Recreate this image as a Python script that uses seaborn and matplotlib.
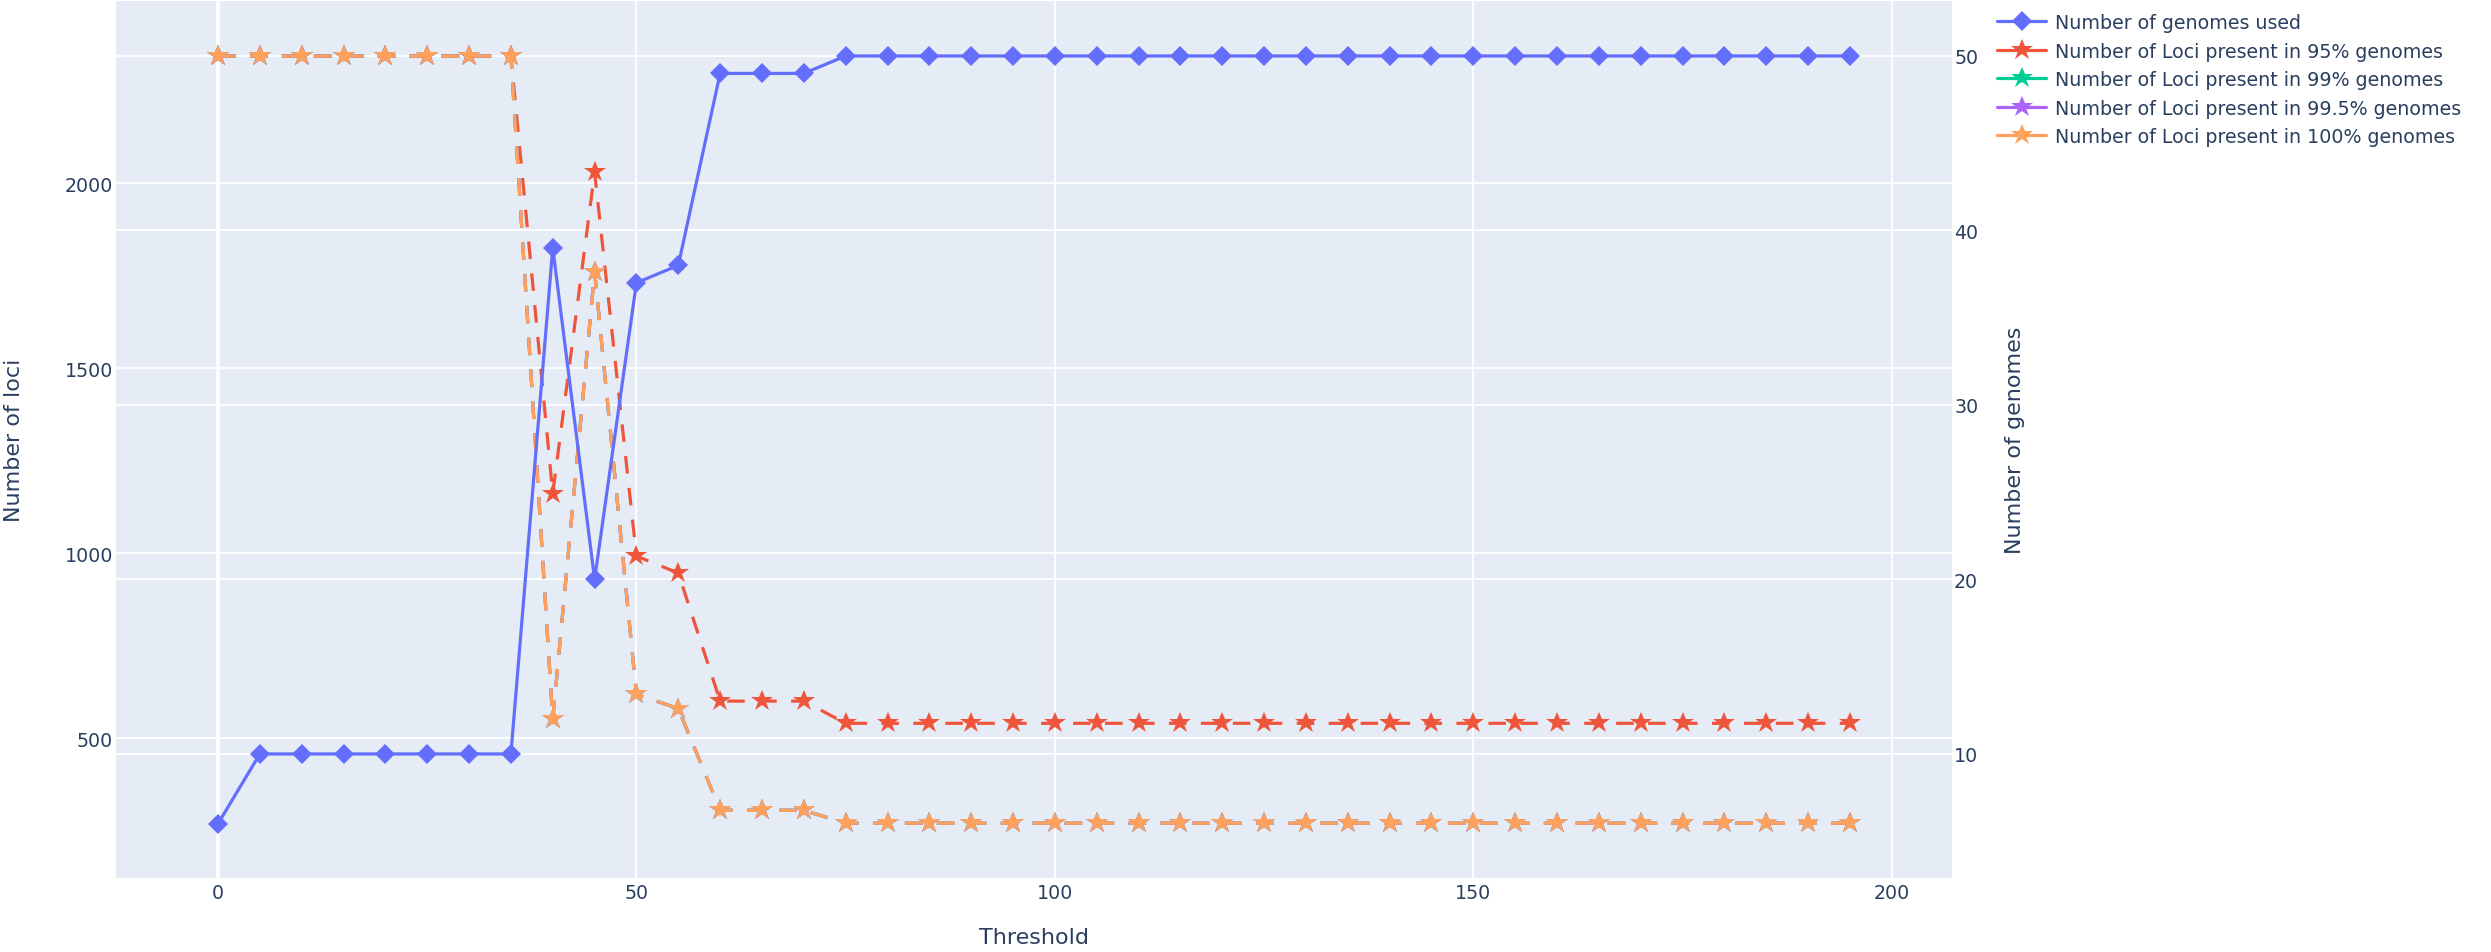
import matplotlib
matplotlib.use("Agg")
import matplotlib.pyplot as plt
from matplotlib.lines import Line2D
import seaborn as sns

# Threshold values on the x axis
thresholds = [0, 5, 10, 15, 20, 25, 30, 35, 40, 45,
              50, 55, 60, 65, 70, 75, 80, 85, 90, 95,
              100, 105, 110, 115, 120, 125, 130, 135, 140, 145,
              150, 155, 160, 165, 170, 175, 180, 185, 190, 195]

# Number of genomes retained at each threshold (right axis)
genomes_used = [6, 10, 10, 10, 10, 10, 10, 10, 39, 20,
                37, 38, 49, 49, 49, 50, 50, 50, 50, 50,
                50, 50, 50, 50, 50, 50, 50, 50, 50, 50,
                50, 50, 50, 50, 50, 50, 50, 50, 50, 50]

# Number of loci present in a given share of genomes (left axis)
loci_95 = [2343, 2343, 2343, 2343, 2343, 2343, 2343, 2343, 1161, 2029,
           992, 946, 600, 600, 600, 540, 540, 540, 540, 540,
           540, 540, 540, 540, 540, 540, 540, 540, 540, 540,
           540, 540, 540, 540, 540, 540, 540, 540, 540, 540]
loci_99 = [2343, 2343, 2343, 2343, 2343, 2343, 2343, 2343, 551, 1760,
           618, 580, 305, 305, 305, 270, 270, 270, 270, 270,
           270, 270, 270, 270, 270, 270, 270, 270, 270, 270,
           270, 270, 270, 270, 270, 270, 270, 270, 270, 270]
loci_995 = [2343, 2343, 2343, 2343, 2343, 2343, 2343, 2343, 551, 1760,
            618, 580, 305, 305, 305, 270, 270, 270, 270, 270,
            270, 270, 270, 270, 270, 270, 270, 270, 270, 270,
            270, 270, 270, 270, 270, 270, 270, 270, 270, 270]
loci_100 = [2343, 2343, 2343, 2343, 2343, 2343, 2343, 2343, 551, 1760,
            618, 580, 305, 305, 305, 270, 270, 270, 270, 270,
            270, 270, 270, 270, 270, 270, 270, 270, 270, 270,
            270, 270, 270, 270, 270, 270, 270, 270, 270, 270]

series_names = ["Number of genomes used",
                "Number of Loci present in 95% genomes",
                "Number of Loci present in 99% genomes",
                "Number of Loci present in 99.5% genomes",
                "Number of Loci present in 100% genomes"]
series_colors = ["#636EFA", "#EF553B", "#00CC96", "#AB63FA", "#FFA15A"]

x_ticks = [0, 50, 100, 150, 200]
loci_ticks = [500, 1000, 1500, 2000]
genome_ticks = [10, 20, 30, 40, 50]

BG = "#E5ECF6"
TXT = "#2a3f5f"

sns.set_style("darkgrid", {"axes.facecolor": BG, "grid.color": "white",
                           "axes.edgecolor": BG})
plt.rcParams["font.family"] = ["DejaVu Sans"]

fig = plt.figure(figsize=(24.91, 9.53), dpi=100)
fig.patch.set_facecolor("white")

W, H = 2491, 953
left, right, top, bottom = 116, 1952, 2, 879
ax = fig.add_axes([left / W, (H - bottom) / H, (right - left) / W, (bottom - top) / H])
ax2 = ax.twinx()

line_w = 2.3
dash = (0, (5.5, 4.5))
diamond_ms = 10
star_ms = 16.4

# Loci traces on the left axis
for vals, col in zip([loci_95, loci_99, loci_995, loci_100], series_colors[1:]):
    sns.lineplot(x=thresholds, y=vals, ax=ax, color=col, linewidth=line_w,
                 linestyle=dash, marker="*", markersize=star_ms,
                 markeredgewidth=0, errorbar=None, zorder=2)

# Genome count on the right axis
sns.lineplot(x=thresholds, y=genomes_used, ax=ax2, color=series_colors[0],
             linewidth=line_w, marker="D", markersize=diamond_ms,
             markeredgewidth=0, errorbar=None, zorder=3)

ax.set_xlim(-12.19, 207.2)
ax.set_ylim(122, 2492)
ax2.set_ylim(2.89, 53.15)

ax.set_xticks(x_ticks)
ax.set_yticks(loci_ticks)
ax2.set_yticks(genome_ticks)

# Grid lines, drawn below every trace
ax.set_axisbelow(True)
ax.grid(True, color="white", linewidth=1.3)
ax2.grid(False)
for v in genome_ticks:
    ax.add_line(Line2D([0, 1], [v, v], transform=ax2.get_yaxis_transform(),
                       color="white", linewidth=1.3, zorder=0.6))
ax.axvline(0, color="white", linewidth=2.6, zorder=0.7)

for a in (ax, ax2):
    for s in a.spines.values():
        s.set_visible(False)

ax.tick_params(axis="x", length=0, pad=3.5, labelsize=13.7, labelcolor=TXT)
ax.tick_params(axis="y", length=0, pad=2.2, labelsize=13.7, labelcolor=TXT)
ax2.tick_params(axis="y", length=0, pad=1.5, labelsize=13.7, labelcolor=TXT)

ax.set_xlabel("Threshold", fontsize=16, color=TXT, va="center")
ax.xaxis.set_label_coords(0.5, -0.0673)
ax.set_ylabel("Number of loci", fontsize=16, color=TXT, va="center")
ax.yaxis.set_label_coords(-0.0556, 0.5)
ax2.set_ylabel("Number of genomes", fontsize=16, color=TXT, va="center",
               rotation=90)
ax2.yaxis.set_label_coords(1.0343, 0.5)

handles = [Line2D([], [], color=series_colors[0], linewidth=line_w,
                  marker="D", markersize=diamond_ms, markeredgewidth=0)]
for col in series_colors[1:]:
    handles.append(Line2D([], [], color=col, linewidth=line_w,
                          marker="*", markersize=star_ms, markeredgewidth=0))
leg = fig.legend(handles, series_names, loc="upper left",
                 bbox_to_anchor=(1997 / W, 1 - 14 / H), frameon=False,
                 borderpad=0, borderaxespad=0, handlelength=2.6,
                 handletextpad=0.45, labelspacing=0.5, fontsize=13.7)
for t in leg.get_texts():
    t.set_color(TXT)

fig.savefig("out.png", dpi=100, facecolor="white")
